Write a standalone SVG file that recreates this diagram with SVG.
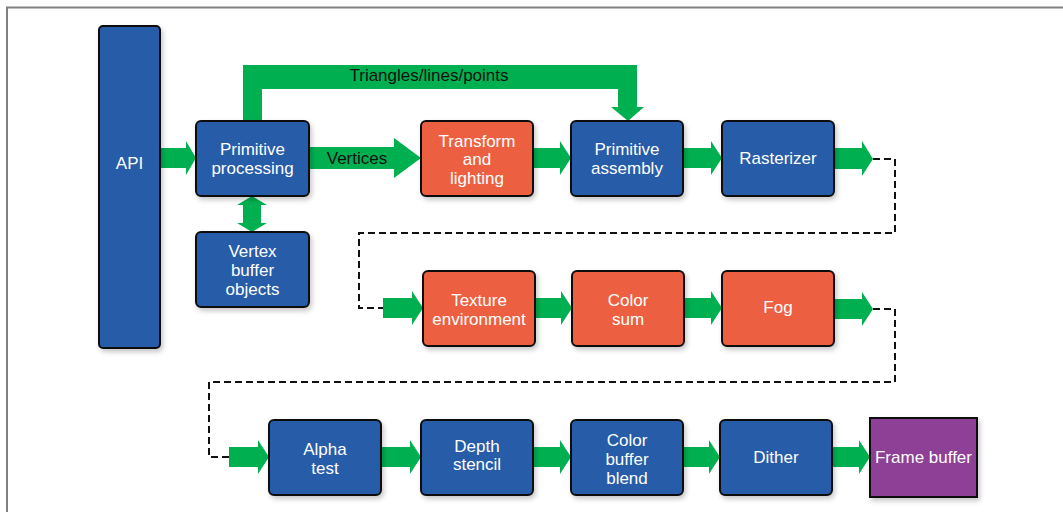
<svg xmlns="http://www.w3.org/2000/svg" width="1063" height="512" viewBox="0 0 1063 512">
<defs>
<filter id="sh" x="-20%" y="-20%" width="150%" height="150%">
<feDropShadow dx="2" dy="3" stdDeviation="2.5" flood-color="#000" flood-opacity="0.22"/>
</filter>
<style>
.box{stroke:#111;stroke-width:2;filter:url(#sh)}
.blue{fill:#265BA8}
.red{fill:#EC5F40}
.purple{fill:#8E4196}
.t{font-family:"Liberation Sans",Arial,sans-serif;font-size:17px;fill:#fff;text-anchor:middle}
.lbl{font-family:"Liberation Sans",Arial,sans-serif;font-size:17px;fill:#111;text-anchor:middle}
.arr{fill:#00B050}
.dash{fill:none;stroke:#111;stroke-width:2;stroke-dasharray:7 4}
</style>
</defs>
<rect width="1063" height="512" fill="#fff"/>
<path d="M7,512 V7.5 H1063" fill="none" stroke="#808080" stroke-width="2"/>

<g id="connectors">
<path class="arr" d="M243,121 V65 H637 V107 H644 L628,121 L611,107 H618 V89 H262 V121 Z"/>
<polygon class="arr" points="160,148 186,148 186,141 196,158 186,175 186,168 160,168"/>
<polygon class="arr" points="309,147 394,147 394,138 421,158 394,178 394,169 309,169"/>
<polygon class="arr" points="252,196 267,205 261,205 261,223 267,223 252,232 237,223 243,223 243,205 237,205"/>
<polygon class="arr" points="533,148 560,148 560,141 571,158 560,175 560,168 533,168"/>
<polygon class="arr" points="683,148 711,148 711,141 722,158 711,175 711,168 683,168"/>
<polygon class="arr" points="834,148 862,148 862,141 873,159 862,176 862,169 834,169"/>
<path class="dash" d="M873,159 H895 V233 H359 V308 H383"/>
<polygon class="arr" points="383,298 412,298 412,291 423,308 412,325 412,318 383,318"/>
<polygon class="arr" points="535,298 561,298 561,291 572,308 561,325 561,318 535,318"/>
<polygon class="arr" points="684,298 711,298 711,291 722,308 711,325 711,318 684,318"/>
<polygon class="arr" points="834,299 862,299 862,292 873,309 862,326 862,319 834,319"/>
<path class="dash" d="M873,309 H895 V382 H209 V457 H229"/>
<polygon class="arr" points="229,447 258,447 258,440 269,457 258,474 258,467 229,467"/>
<polygon class="arr" points="381,447 410,447 410,440 421,457 410,474 410,467 381,467"/>
<polygon class="arr" points="533,447 560,447 560,440 571,457 560,474 560,467 533,467"/>
<polygon class="arr" points="683,447 709,447 709,440 720,457 709,474 709,467 683,467"/>
<polygon class="arr" points="832,447 859,447 859,440 870,457 859,474 859,467 832,467"/>
<text class="lbl" x="429" y="81">Triangles/lines/points</text>
<text class="lbl" x="357" y="164">Vertices</text>
</g>

<g id="api"><rect class="box blue" x="99" y="26" width="61" height="322" rx="4"/><text class="t" x="129.5" y="169">API</text></g>
<g id="primitive-processing"><rect class="box blue" x="196" y="121" width="113" height="75" rx="5"/><text class="t" x="252.5" y="155">Primitive</text><text class="t" x="252.5" y="174">processing</text></g>
<g id="transform-lighting"><rect class="box red" x="421" y="121" width="112" height="75" rx="5"/><text class="t" x="477" y="147">Transform</text><text class="t" x="477" y="165">and</text><text class="t" x="477" y="184">lighting</text></g>
<g id="primitive-assembly"><rect class="box blue" x="571" y="121" width="112" height="75" rx="5"/><text class="t" x="627" y="155">Primitive</text><text class="t" x="627" y="174">assembly</text></g>
<g id="rasterizer"><rect class="box blue" x="722" y="121" width="112" height="75" rx="5"/><text class="t" x="778" y="164">Rasterizer</text></g>
<g id="vertex-buffer-objects"><rect class="box blue" x="196" y="232" width="113" height="75" rx="5"/><text class="t" x="252.5" y="257">Vertex</text><text class="t" x="252.5" y="276">buffer</text><text class="t" x="252.5" y="295">objects</text></g>
<g id="texture-environment"><rect class="box red" x="423" y="271" width="112" height="75" rx="5"/><text class="t" x="479" y="306">Texture</text><text class="t" x="479" y="325">environment</text></g>
<g id="color-sum"><rect class="box red" x="572" y="271" width="112" height="75" rx="5"/><text class="t" x="628" y="306">Color</text><text class="t" x="628" y="325">sum</text></g>
<g id="fog"><rect class="box red" x="722" y="271" width="112" height="75" rx="5"/><text class="t" x="778" y="313">Fog</text></g>
<g id="alpha-test"><rect class="box blue" x="269" y="420" width="112" height="75" rx="5"/><text class="t" x="325" y="455">Alpha</text><text class="t" x="325" y="474">test</text></g>
<g id="depth-stencil"><rect class="box blue" x="421" y="420" width="112" height="75" rx="5"/><text class="t" x="477" y="452">Depth</text><text class="t" x="477" y="470">stencil</text></g>
<g id="color-buffer-blend"><rect class="box blue" x="571" y="420" width="112" height="75" rx="5"/><text class="t" x="627" y="446">Color</text><text class="t" x="627" y="465">buffer</text><text class="t" x="627" y="484">blend</text></g>
<g id="dither"><rect class="box blue" x="720" y="420" width="112" height="75" rx="5"/><text class="t" x="776" y="463">Dither</text></g>
<g id="frame-buffer"><rect class="box purple" x="870" y="418" width="107" height="79"/><text class="t" x="923.5" y="463">Frame buffer</text></g>
</svg>
